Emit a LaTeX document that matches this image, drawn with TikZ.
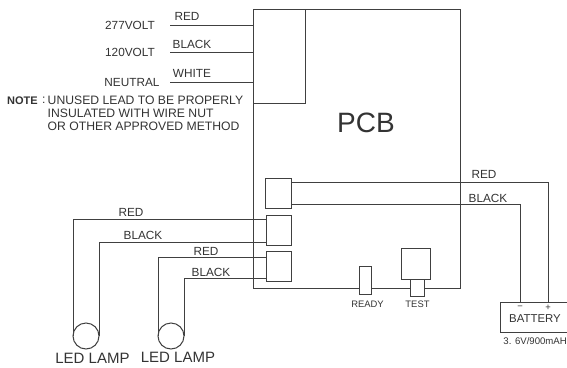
\documentclass[tikz,border=0pt]{standalone}
\usepackage{fontspec}
\setmainfont{Liberation Sans}
\definecolor{ink}{HTML}{404040}
\definecolor{txt}{HTML}{333333}
\tikzset{
  wire/.style={draw=ink,line width=1pt},
  boxnode/.style={draw=ink,line width=1pt,rectangle,inner sep=0pt,outer sep=0pt},
  lampnode/.style={draw=ink,line width=1pt,circle,inner sep=0pt,outer sep=0pt,minimum size=26pt},
  lab/.style={text=txt,font=\fontsize{11.8}{13}\selectfont,inner sep=0pt},
  notelab/.style={text=txt,font=\fontsize{12.2}{14}\selectfont,inner sep=0pt,anchor=west},
  small/.style={text=txt,font=\fontsize{9.4}{11}\selectfont,inner sep=0pt},
  big/.style={text=txt,font=\fontsize{28}{30}\selectfont,inner sep=0pt},
  lamplab/.style={text=txt,font=\fontsize{15}{17}\selectfont,inner sep=0pt}
}
\begin{document}
\begin{tikzpicture}[x=1pt,y=-1pt]
\useasboundingbox (0,0) rectangle (567,367);
% boxes
\node[boxnode,minimum width=207pt,minimum height=279pt] (pcb) at (356.5,148.5) {};
\node[boxnode,minimum width=52pt,minimum height=94pt] (lead) at (279,56) {};
\node[boxnode,fill=white,minimum width=26pt,minimum height=30pt] (c1) at (278,193) {};
\node[boxnode,fill=none,minimum width=25pt,minimum height=30pt] (c2) at (278.5,230) {};
\node[boxnode,fill=none,minimum width=25pt,minimum height=30pt] (c3) at (278.5,266) {};
\node[boxnode,fill=white,minimum width=12pt,minimum height=28pt] (ready) at (365,280) {};
\node[boxnode,fill=white,minimum width=14pt,minimum height=18pt] (testb) at (417,287) {};
\node[boxnode,fill=white,minimum width=29pt,minimum height=31pt] (testa) at (416,263.5) {};
\node[boxnode,minimum width=72pt,minimum height=30pt] (bat) at (536,317) {};
\node[lampnode] (lampA) at (86,336) {};
\node[lampnode] (lampB) at (171,336) {};
% free ends
\coordinate (r1) at (170,25); \coordinate (r1e) at (253,25);
\coordinate (b1) at (170,52); \coordinate (b1e) at (253,52);
\coordinate (w1) at (170,82); \coordinate (w1e) at (253,82);
\coordinate (c1r) at (291,182); \coordinate (c1b) at (291,204);
\coordinate (batp) at (548,302); \coordinate (batm) at (520,302);
\coordinate (c2r) at (266,219); \coordinate (c2b) at (266,242);
\coordinate (c3r) at (266,257); \coordinate (c3b) at (266,278);
% wires
\draw[wire] (r1) -- (r1e);
\draw[wire] (b1) -- (b1e);
\draw[wire] (w1) -- (w1e);
\draw[wire] (c1r) -| (batp);
\draw[wire] (c1b) -| (batm);
\draw[wire] (c2r) -| (lampA.west);
\draw[wire] (c2b) -| (lampA.east);
\draw[wire] (c3r) -| (lampB.west);
\draw[wire] (c3b) -| (lampB.east);
% labels
\node[lab] (t277) at (130,25.5) {277VOLT};
\node[lab] (t120) at (130,52.5) {120VOLT};
\node[lab] (tneu) at (132,82) {NEUTRAL};
\node[lab] (tr1) at (187,16.5) {RED};
\node[lab] (tb1) at (192,44) {BLACK};
\node[lab] (tw1) at (192,73.5) {WHITE};
\node[notelab,font=\fontsize{11}{13}\selectfont\bfseries] (note) at (7,100.5) {NOTE};
\node[notelab] (n0) at (42,100.5) {:};
\node[notelab] (n1) at (47.5,100.5) {UNUSED LEAD TO BE PROPERLY};
\node[notelab] (n2) at (47.5,113.5) {INSULATED WITH WIRE NUT};
\node[notelab] (n3) at (47.5,126) {OR OTHER APPROVED METHOD};
\node[big] (tpcb) at (366,123) {PCB};
\node[lab] (tr2) at (484,174) {RED};
\node[lab] (tb2) at (488,198) {BLACK};
\node[lab] (tr3) at (131,212) {RED};
\node[lab] (tb3) at (143,235) {BLACK};
\node[lab] (tr4) at (206,251) {RED};
\node[lab] (tb4) at (211,272) {BLACK};
\node[small] (tready) at (367.5,304) {READY};
\node[small] (ttest) at (417.5,304) {TEST};
\node[small] (tminus) at (520,307.5) {−};
\node[small] (tplus) at (548,307.5) {+};
\node[lab,font=\fontsize{11.4}{13}\selectfont] (tbat) at (535,319) {BATTERY};
\node[small,anchor=east,font=\fontsize{9.6}{11}\selectfont] (tcap) at (567,341) {3. 6V/900mAH};
\node[lamplab] (l1) at (92.5,358) {LED LAMP};
\node[lamplab] (l2) at (178,357) {LED LAMP};
\end{tikzpicture}
\end{document}
